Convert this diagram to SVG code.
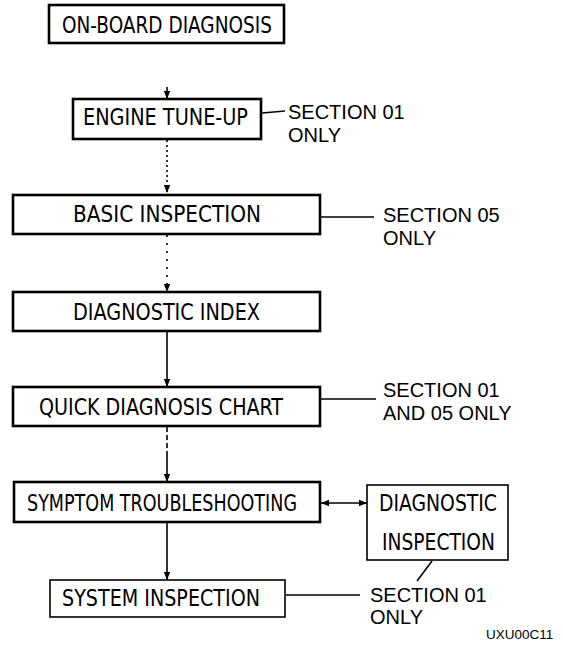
<svg xmlns="http://www.w3.org/2000/svg" width="563" height="649" viewBox="0 0 563 649">
<defs>
<style>
.box{fill:#fff;stroke:#000;stroke-width:2.6}
.thin{fill:#fff;stroke:#000;stroke-width:1.6}
.bt{font-family:"DejaVu Sans Condensed","Liberation Sans",sans-serif;font-size:22.5px;fill:#000}
.nt{font-family:"Liberation Sans",Arial,sans-serif;font-size:20px;fill:#000}
.ln{stroke:#000;stroke-width:1.6;fill:none}
</style>
<marker id="ah" viewBox="0 0 10 10" refX="10" refY="5" markerWidth="9" markerHeight="8" orient="auto-start-reverse" markerUnits="userSpaceOnUse">
<path d="M0,1 L10,5 L0,9 z" fill="#000"/>
</marker>
</defs>
<rect width="563" height="649" fill="#fff"/>

<g id="connectors">
<line class="ln" x1="167" y1="87" x2="167" y2="99" marker-end="url(#ah)"/>
<line class="ln" x1="167" y1="140" x2="167" y2="193" stroke-dasharray="2,3" marker-end="url(#ah)"/>
<line class="ln" x1="167" y1="235" x2="167" y2="292" stroke-dasharray="2,6" marker-end="url(#ah)"/>
<line class="ln" x1="167" y1="331" x2="167" y2="387" marker-end="url(#ah)"/>
<line class="ln" x1="167" y1="427" x2="167" y2="452" stroke-dasharray="5,3"/>
<line class="ln" x1="167" y1="452" x2="167" y2="482" marker-end="url(#ah)"/>
<line class="ln" x1="167" y1="523" x2="167" y2="580" marker-end="url(#ah)"/>
<line class="ln" x1="321" y1="503" x2="367" y2="503" marker-start="url(#ah)" marker-end="url(#ah)"/>
<line class="ln" x1="262" y1="113" x2="285" y2="111"/>
<line class="ln" x1="321" y1="217" x2="374" y2="217"/>
<line class="ln" x1="321" y1="399" x2="376" y2="399"/>
<line class="ln" x1="286" y1="595" x2="360" y2="595"/>
<line class="ln" x1="432" y1="561" x2="417" y2="581" stroke-width="1.2"/>
</g>

<g id="on-board-diagnosis">
<rect class="box" x="49" y="5" width="235" height="38"/>
<text class="bt" x="62" y="33" textLength="210" lengthAdjust="spacingAndGlyphs">ON-BOARD DIAGNOSIS</text>
</g>

<g id="engine-tune-up">
<rect class="box" x="73" y="99" width="188" height="40" stroke-width="3"/>
<text class="bt" x="83" y="125" textLength="165" lengthAdjust="spacingAndGlyphs">ENGINE TUNE-UP</text>
</g>
<g id="note-engine">
<text class="nt" x="288" y="119">SECTION 01</text>
<text class="nt" x="288" y="142">ONLY</text>
</g>

<g id="basic-inspection">
<rect class="box" x="13" y="195" width="307" height="39"/>
<text class="bt" x="73" y="222" textLength="188" lengthAdjust="spacingAndGlyphs">BASIC INSPECTION</text>
</g>
<g id="note-basic">
<text class="nt" x="383" y="222">SECTION 05</text>
<text class="nt" x="383" y="245">ONLY</text>
</g>

<g id="diagnostic-index">
<rect class="box" x="13" y="292" width="307" height="39"/>
<text class="bt" x="73" y="320" textLength="187" lengthAdjust="spacingAndGlyphs">DIAGNOSTIC INDEX</text>
</g>

<g id="quick-diagnosis-chart">
<rect class="box" x="13" y="387" width="307" height="39"/>
<text class="bt" x="39" y="415" textLength="244" lengthAdjust="spacingAndGlyphs">QUICK DIAGNOSIS CHART</text>
</g>
<g id="note-quick">
<text class="nt" x="383" y="397">SECTION 01</text>
<text class="nt" x="383" y="420">AND 05 ONLY</text>
</g>

<g id="symptom-troubleshooting">
<rect class="box" x="14" y="482" width="306" height="40"/>
<text class="bt" x="27" y="511" textLength="270" lengthAdjust="spacingAndGlyphs">SYMPTOM TROUBLESHOOTING</text>
</g>

<g id="diagnostic-inspection">
<rect class="thin" x="367" y="485" width="141" height="75"/>
<text class="bt" x="379" y="511" textLength="118" lengthAdjust="spacingAndGlyphs">DIAGNOSTIC</text>
<text class="bt" x="382" y="550" textLength="113" lengthAdjust="spacingAndGlyphs">INSPECTION</text>
</g>

<g id="system-inspection">
<rect class="thin" x="50" y="580" width="235" height="37" stroke-width="2"/>
<text class="bt" x="62" y="606" textLength="198" lengthAdjust="spacingAndGlyphs">SYSTEM INSPECTION</text>
</g>
<g id="note-system">
<text class="nt" x="370" y="602">SECTION 01</text>
<text class="nt" x="370" y="624">ONLY</text>
</g>

<text class="nt" x="486" y="639" font-size="13.5px" style="font-size:13.5px">UXU00C11</text>
</svg>
